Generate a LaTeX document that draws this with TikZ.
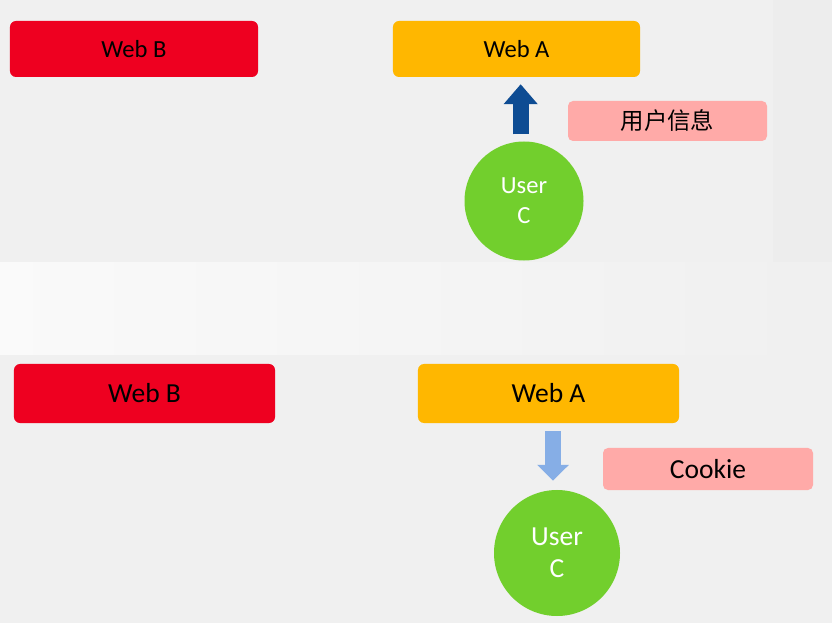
\documentclass[tikz,border=0pt]{standalone}
\usepackage{fontspec}
\setmainfont{Carlito}
\newfontfamily\cjk{Noto Sans CJK SC}
\usetikzlibrary{arrows.meta}
\definecolor{webred}{HTML}{EE0020}
\definecolor{weborange}{HTML}{FFB700}
\definecolor{infopink}{HTML}{FFAAA8}
\definecolor{usergreen}{HTML}{72CF2D}
\definecolor{darkblue}{HTML}{0E4C93}
\definecolor{lightblue}{HTML}{86AEE6}
\definecolor{panelgray}{HTML}{F0F0F0}
\newcommand{\topsize}{\fontsize{21}{25.6}\selectfont}
\newcommand{\botsize}{\fontsize{23.5}{27}\selectfont}
\tikzset{
  webbox/.style={rounded corners=0.18cm, inner sep=0pt, text=black},
  infobox/.style={fill=infopink, rounded corners=0.15cm, inner sep=0pt, text=black},
  userball/.style={circle, fill=usergreen, inner sep=0pt, text=white, align=center},
  blockarrow/.style={line width=0.48cm}
}
\begin{document}
\begin{tikzpicture}[x=0.03cm,y=-0.03cm]
  % backgrounds of the two slides
  \fill[panelgray] (0,0) rectangle (832,623);
  \fill[black!7] (773,0) rectangle (832,263);
  \shade[left color=black!2, right color=black!6] (0,263) rectangle (832,355);
  \useasboundingbox (0,0) rectangle (832,623);

  % first slide
  \node[webbox, fill=webred, minimum width=7.44cm, minimum height=1.68cm,
        font=\topsize] (webBtop) at (134,49) {Web B};
  \node[webbox, fill=weborange, minimum width=7.41cm, minimum height=1.68cm,
        font=\topsize] (webAtop) at (516.5,49) {Web A};
  \node[infobox, minimum width=5.97cm, minimum height=1.2cm,
        font=\cjk\fontsize{20}{24}\selectfont] (infotop) at (667.5,121) {用户信息};
  \node[userball, minimum size=3.57cm, font=\topsize] (usertop) at (524,201)
    {User\\C};
  \draw[blockarrow, darkblue, -{Triangle[width=0.99cm,length=0.6cm]},
        shorten <=0.21cm, shorten >=0.21cm]
    ([xshift=-0.1cm]usertop.north) -- ([xshift=-0.1cm]usertop.north |- webAtop.south);

  % second slide
  \node[webbox, fill=webred, minimum width=7.83cm, minimum height=1.77cm,
        font=\botsize] (webBbot) at (144.5,393.5) {Web B};
  \node[webbox, fill=weborange, minimum width=7.83cm, minimum height=1.77cm,
        font=\botsize] (webAbot) at (548.5,393.5) {Web A};
  \node[infobox, minimum width=6.3cm, minimum height=1.26cm,
        font=\botsize] (infobot) at (708,469) {Cookie};
  \node[userball, minimum size=3.78cm, font=\botsize] (userbot) at (557,553)
    {User\\C};
  \draw[blockarrow, lightblue, -{Triangle[width=0.93cm,length=0.48cm]},
        shorten <=0.24cm, shorten >=0.27cm]
    ([xshift=-0.12cm]userbot.north |- webAbot.south) -- ([xshift=-0.12cm]userbot.north);
\end{tikzpicture}
\end{document}
